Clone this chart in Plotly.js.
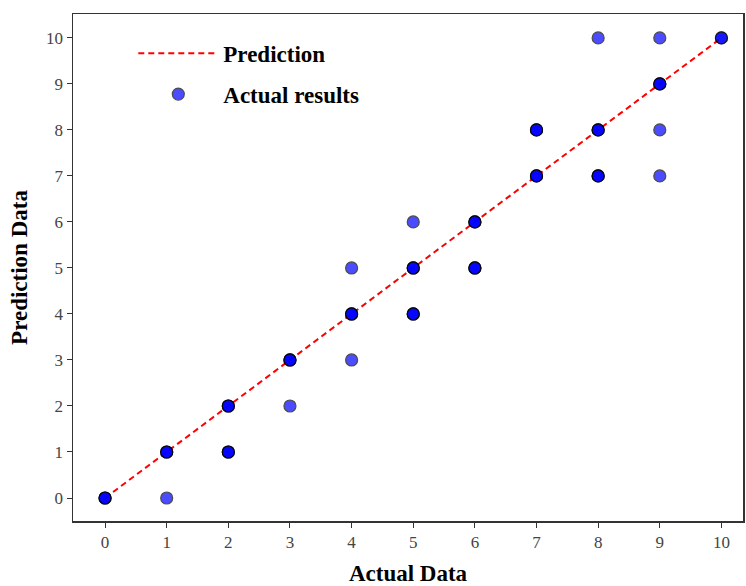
<!DOCTYPE html>
<html><head><meta charset="utf-8">
<script src="https://cdn.plot.ly/plotly-3.0.1.min.js"></script>
<style>body{margin:0;background:#fff}#c{width:746px;height:586px}</style>
</head><body><div id="c"></div>
<script>
// Prediction (ideal) line
var lineX = [0, 10];
var lineY = [0, 10];
// Actual results (duplicates are overlapping points)
var actualX = [0,0,0, 1,1,1, 1, 2,2,2, 2,2,2, 3,3,3, 3, 4,4,4, 4, 4, 5,5,5, 5, 5,5,5, 6,6,6, 6,6,6, 7,7,7, 7,7,7, 8,8,8, 8,8,8, 8, 9,9,9, 9, 9, 9, 10,10];
var actualY = [0,0,0, 1,1,1, 0, 2,2,2, 1,1,1, 3,3,3, 2, 4,4,4, 5, 3, 5,5,5, 6, 4,4,4, 6,6,6, 5,5,5, 7,7,7, 8,8,8, 8,8,8, 7,7,7, 10, 9,9,9, 10, 8, 7, 10,10];
var tickVals = [0,1,2,3,4,5,6,7,8,9,10];

var traces = [
  {x: lineX, y: lineY, mode: 'lines', name: 'Prediction', legendgroup: 'a',
   line: {color: '#ff0000', width: 2, dash: '6px,4px'}},
  {x: actualX, y: actualY, mode: 'markers', name: 'Actual results', legendgroup: 'b',
   marker: {color: '#0000ff', size: 12, opacity: 0.7, line: {color: '#000000', width: 1.2}}}
];
var serif = 'Liberation Serif, Times New Roman, serif';
var axFont = {family: serif, size: 17, color: '#444'};
var layout = {
  width: 746, height: 586,
  margin: {l: 73, r: 3, t: 14, b: 65},
  paper_bgcolor: '#fff', plot_bgcolor: '#fff',
  showlegend: true,
  legend: {x: 0.09, y: 0.965, xanchor: 'left', yanchor: 'top', bgcolor: 'rgba(0,0,0,0)',
    font: {family: serif, size: 23, color: '#000', weight: 'bold'},
    traceorder: 'grouped', tracegroupgap: 8, itemwidth: 80},
  xaxis: {range: [-0.52, 10.35], tickvals: tickVals, ticks: 'outside', ticklen: 5, tickcolor: '#333',
    showgrid: false, zeroline: false, showline: true, linecolor: '#333', linewidth: 1.5, mirror: true,
    tickfont: axFont,
    title: {text: '<b>Actual Data</b>', standoff: 14,
      font: {family: serif, size: 23, color: '#000'}}},
  yaxis: {range: [-0.5, 10.52], tickvals: tickVals, ticks: 'outside', ticklen: 5, tickcolor: '#333',
    showgrid: false, zeroline: false, showline: true, linecolor: '#333', linewidth: 1.5, mirror: true,
    tickfont: axFont,
    title: {text: '<b>Prediction Data</b>', standoff: 12,
      font: {family: serif, size: 23, color: '#000'}}}
};
Plotly.newPlot('c', traces, layout, {displayModeBar: false, staticPlot: true});
</script></body></html>
